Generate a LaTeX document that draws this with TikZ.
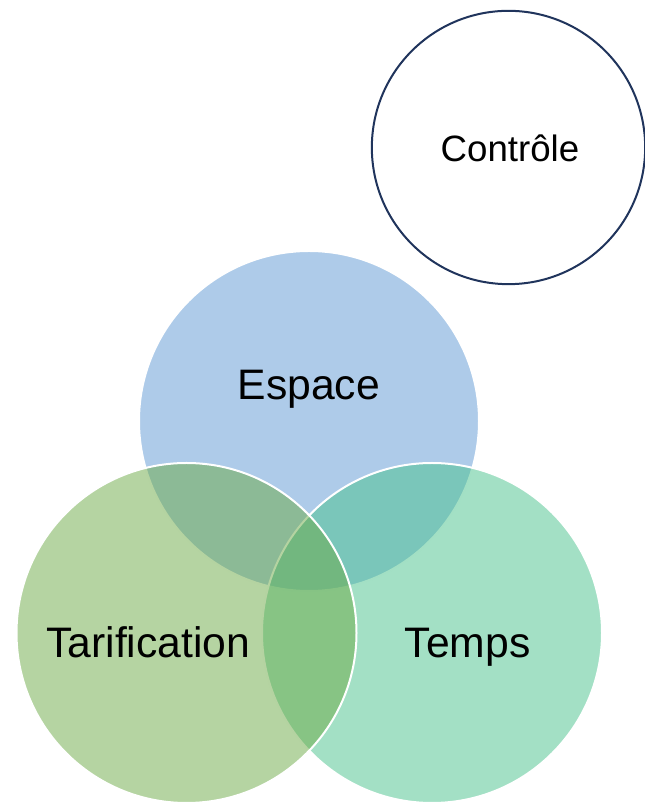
\documentclass[tikz,border=0pt]{standalone}
\usepackage{fontspec}
\setmainfont{Liberation Sans}
\usepackage{tikz}

\definecolor{espaceblue}{RGB}{93,151,211}
\definecolor{tarifgreen}{RGB}{107,169,69}
\definecolor{tempsgreen}{RGB}{71,193,139}
\definecolor{controlenavy}{RGB}{32,52,92}

\begin{document}
\begin{tikzpicture}[x=0.75pt,y=0.75pt]
% Circle and text styles
\tikzset{
    venn/.style={circle, minimum size=255pt, inner sep=0pt, draw=white, line width=1.5pt, fill opacity=0.5},
    venntext/.style={font=\fontsize{32}{38}\selectfont, text=black, anchor=base, inner sep=0pt},
}
\useasboundingbox (0,0) rectangle (644,803);
% Control circle
\node
[
    circle,
    minimum size=205pt,
    inner sep=0pt,
    draw=controlenavy,
    line width=1.5pt,
    fill=white
] (controle) at (508.5,655.5) {};
\node[font=\fontsize{27.5}{33}\selectfont, anchor=base, inner sep=0pt] (controleText) at (510,641.3) {Contrôle};
% Venn circles
\node[venn, fill=espaceblue] (espace) at (309,382) {};
\node[venn, fill=tempsgreen] (temps) at (432,170) {};
\node[venn, fill=tarifgreen] (tarif) at (186.5,170) {};
% Labels
\node[venntext] (espaceText) at (308.8,403) {Espace};
\node[venntext] (tarifText) at (148.3,145.3) {Tarification};
\node[venntext] (tempsText) at (467.5,145.3) {Temps};
\end{tikzpicture}
\end{document}
